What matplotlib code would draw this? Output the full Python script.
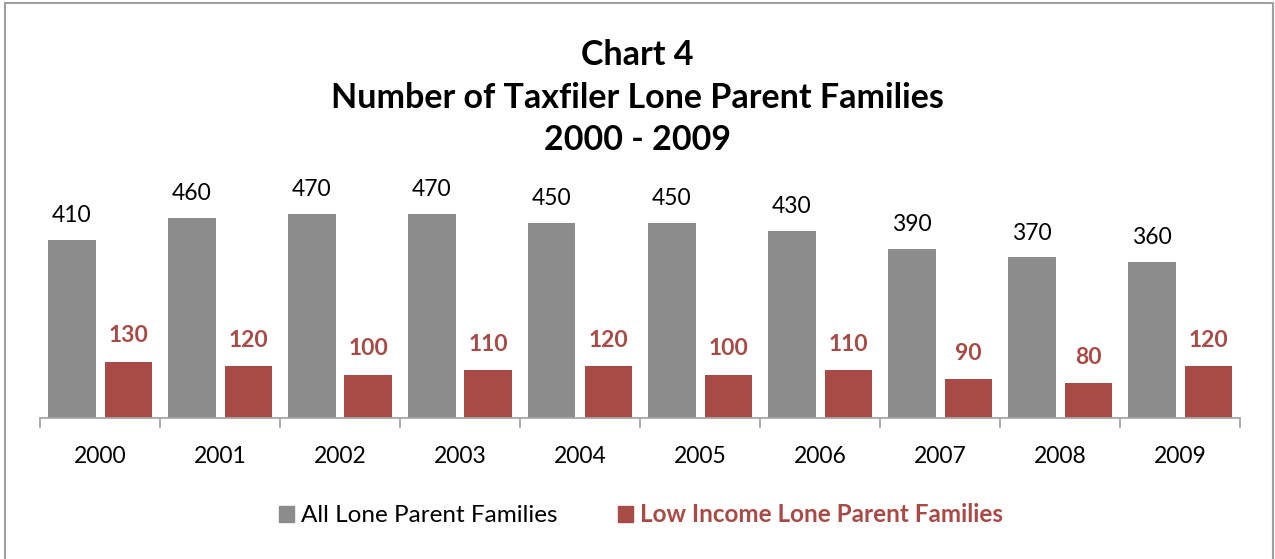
import matplotlib.pyplot as plt
import matplotlib.patches as mpatches
import numpy as np

years = ['2000', '2001', '2002', '2003', '2004', '2005', '2006', '2007', '2008', '2009']
all_lone = [410, 460, 470, 470, 450, 450, 430, 390, 370, 360]
low_income = [130, 120, 100, 110, 120, 100, 110, 90, 80, 120]

gray = '#8c8c8c'
red = '#a84b46'

plt.rcParams['font.family'] = ['Lato', 'DejaVu Sans']

fig = plt.figure(figsize=(12.75, 5.59), dpi=100)
W, H = 1275, 559

# axes placed in pixel terms
left, right, base, top = 40, 1240, 418, 201
ax = fig.add_axes([left / W, (H - base) / H, (right - left) / W, (base - top) / H])

x = np.arange(len(years))
b1 = ax.bar(x - 0.235, all_lone, width=0.395, color=gray)
b2 = ax.bar(x + 0.235, low_income, width=0.395, color=red)

ax.bar_label(b1, padding=10, fontsize=16.5, color='black')
ax.bar_label(b2, padding=11, fontsize=16.5, color=red, fontweight='bold')

ax.set_xlim(-0.5, len(years) - 0.5)
ax.set_ylim(0, 500)
ax.set_yticks([])
for s in ['top', 'right', 'left']:
    ax.spines[s].set_visible(False)
ax.spines['bottom'].set_color('#a6a6a6')
ax.spines['bottom'].set_linewidth(1.3)

# ticks at category boundaries, labels centred
ax.set_xticks(np.arange(-0.5, len(years)), minor=False)
ax.set_xticklabels([])
ax.tick_params(axis='x', length=7, width=1.3, color='#a6a6a6')
ax.set_xticks(x, minor=True)
ax.set_xticklabels(years, minor=True, fontsize=16.5)
ax.tick_params(axis='x', which='minor', length=0, pad=20)

fig.text(0.5, 1 - 55 / H, 'Chart 4', ha='center', va='center', fontsize=24.5, fontweight='bold')
fig.text(0.5, 1 - 98 / H, 'Number of Taxfiler Lone Parent Families', ha='center', va='center',
         fontsize=24.5, fontweight='bold')
fig.text(0.5, 1 - 140 / H, '2000 - 2009', ha='center', va='center', fontsize=24.5, fontweight='bold')

handles = [mpatches.Patch(color=gray, label='All Lone Parent Families'),
           mpatches.Patch(color=red, label='Low Income Lone Parent Families')]
leg = fig.legend(handles=handles, loc='center', bbox_to_anchor=(641 / W, 1 - 515 / H), ncol=2,
                 frameon=False, fontsize=17.5, handlelength=0.6, handleheight=0.6,
                 handletextpad=0.3, columnspacing=2.5)
leg.get_texts()[1].set_color(red)
leg.get_texts()[1].set_fontweight('bold')

# outer border
fig.patches.append(mpatches.Rectangle((5 / W, -0.05), (1268 / W), 1.05 - 3 / H, transform=fig.transFigure,
                                      fill=False, edgecolor='#a0a0a0', linewidth=1.5))

fig.savefig('out.png', dpi=100)
